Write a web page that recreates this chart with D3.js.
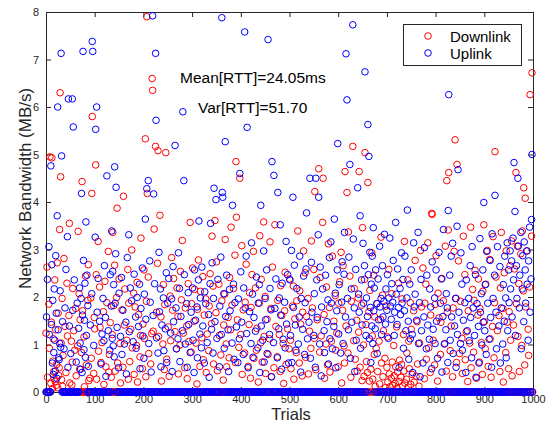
<!DOCTYPE html>
<html lang="en">
<head>
    <meta charset="UTF-8">
    <title>Network Bandwidth per Trial</title>
    <script src="https://cdn.jsdelivr.net/npm/d3@7/dist/d3.min.js"></script>
    <style>
        body { margin: 0; background: #fff; }
        svg { font-family: "Liberation Sans", Arial, sans-serif; }
        .axis path, .axis line { stroke: #262626; }
        .axis text { fill: #262626; font-size: 11px; }
    </style>
</head>
<body>
<svg width="546" height="425"></svg>

<script>

    // Downlink bandwidth (MB/s), one value per trial 0..999
    var downlink = [
        1.24, 0, 2.63, 0.31, 0, 0, 1.85, 0.92, 4.95, 0,
        0.18, 1.47, 4.93, 0.07, 0.65, 1.12, 0.43, 0.28, 2.36, 0.22,
        1.31, 0.14, 0.58, 2.72, 0.09, 1.66, 0.35, 0.51, 3.42, 6.3,
        4.53, 1.03, 0.26, 1.97, 0.12, 0.77, 0, 2.81, 0, 1.38,
        0, 0.41, 0, 2.29, 1.18, 0, 0, 1.61, 3.55, 0.19,
        0, 0, 1.07, 0.15, 0.63, 2.18, 0, 1.29, 0, 0.88,
        0, 1.76, 0.34, 0, 0, 0.97, 3.38, 0, 2.07, 0.48,
        1.52, 0, 0, 0.83, 4.43, 1.71, 0, 0, 1.16, 0.11,
        0, 2.44, 0, 0.57, 0, 0, 1.93, 2.68, 0.24, 0,
        0.29, 0, 1.98, 0.71, 4.18, 5.8, 0, 0, 0.39, 1.57,
        1.33, 0, 4.78, 2.47, 0.27, 0, 0, 3.17, 0.86, 0,
        2.21, 1.36, 0, 0.62, 0, 1.04, 0, 0, 1.69, 0.16,
        0, 2.33, 0, 0.53, 0, 1.88, 0, 0, 2.96, 0.42,
        0.79, 0, 1.46, 0, 0.31, 0, 1.21, 3.36, 0, 1.82,
        0, 2.67, 0.44, 0, 0, 1.99, 3.87, 0.61, 0, 0,
        2.38, 0, 1.02, 0.19, 0, 0, 1.73, 0, 0.52, 4.12,
        0, 1.41, 2.17, 0, 0, 0, 1.09, 0, 2.58, 0.27,
        1.87, 0, 0.64, 0, 1.32, 0, 2.99, 0.93, 0, 0,
        2.08, 0.37, 0, 1.79, 0, 0, 0.98, 2.31, 0.21, 0,
        1.63, 0, 0, 0.74, 1.19, 3.24, 0, 0, 0.49, 1.43,
        0, 2.57, 1.13, 0, 5.33, 0.32, 1.91, 7.9, 4.18, 0,
        2.42, 0.81, 0, 0, 0, 0.59, 0, 1.23, 6.6, 6.35,
        1.28, 0, 3.43, 0, 0, 5.17, 0, 1.68, 0, 2.71,
        5.08, 1.17, 0, 0, 3.72, 0, 1.58, 0.23, 0, 0,
        1.01, 2.26, 0, 0.47, 1.84, 0, 5.04, 0, 0.69, 0,
        0, 1.37, 0, 0.33, 0, 2.02, 1.08, 0, 2.83, 0,
        1.72, 0, 2.39, 0, 0, 1.27, 0, 0, 0.91, 2.19,
        0, 1.59, 0.38, 0, 0, 0.99, 2.54, 0, 1.94, 0,
        3.19, 0, 1.24, 0, 0, 0.51, 1.77, 0, 0, 1.39,
        0.28, 0, 2.28, 1.06, 0, 0, 3.57, 0, 0.84, 1.86,
        0, 2.61, 0, 0, 1.49, 2.16, 0, 0, 1.03, 0,
        0.17, 1.74, 0, 2.78, 0, 0, 0.54, 2.12, 0, 0,
        1.14, 0, 2.43, 0.68, 0, 1.62, 0, 0, 1.96, 0.41,
        0, 1.22, 0, 0, 0.87, 1.81, 0, 2.49, 0, 0,
        1.44, 3.28, 0, 2.23, 0.59, 0, 0, 3.61, 0, 1.67,
        2.74, 0, 0.45, 0, 0, 2.27, 1.19, 0, 0, 0.78,
        0, 1.92, 0, 0, 0.25, 1.41, 0, 2.06, 3.21, 0,
        1.01, 0.53, 0, 0, 1.57, 0, 0.72, 2.41, 0, 1.31,
        3.47, 0, 1.83, 0, 0, 2.18, 0, 0, 2.88, 0.62,
        4.85, 3.68, 0, 1.52, 0, 0, 0.94, 0, 4.5, 0,
        1.21, 0, 3.08, 0.37, 0, 1.73, 0, 0, 0.82, 1.89,
        0, 2.69, 0, 0, 0, 0.54, 0, 1.42, 2.09, 0,
        0.29, 1.78, 0, 2.47, 0, 0, 2.96, 0.71, 0, 0,
        2.19, 0, 0.88, 1.34, 0, 0, 0.21, 0, 1.87, 3.29,
        0, 1.04, 2.37, 0, 0.63, 0, 0, 3.58, 1.17, 0,
        2.01, 0.39, 0, 0, 1.53, 0, 0.79, 0, 0, 1.12,
        3.16, 0, 1.76, 0.32, 0, 2.63, 0, 0, 0.51, 0,
        3.52, 0, 1.38, 0, 0, 0.74, 1.93, 0, 0, 1.21,
        0, 0.43, 2.24, 0, 1.61, 0, 0, 1.02, 0.18, 0,
        1.71, 2.52, 0, 0.58, 0, 0, 1.33, 0, 0, 0.91,
        2.38, 0, 1.09, 0.49, 0, 0, 1.81, 0, 2.23, 0.27,
        0, 1.54, 0, 0, 0.83, 1.92, 0, 3.39, 0, 0,
        0.61, 2.13, 0, 1.43, 0, 0, 0.34, 1.68, 0, 2.97,
        0, 0, 2.51, 0.73, 0, 1.59, 0, 0, 1.97, 0.38,
        0, 1.28, 0, 0, 0.92, 3.18, 0, 1.77, 0, 0,
        2.58, 1.13, 4.22, 0, 0.47, 0, 0, 1.52, 0, 0,
        4.7, 0, 0.84, 2.41, 0, 1.18, 0, 0, 3.57, 4.5,
        0, 1.63, 0.29, 0, 0, 1.01, 2.21, 0, 0.57, 0,
        3.12, 0, 1.78, 0.42, 0, 0, 1.07, 0, 2.86, 0,
        0, 1.49, 0, 0, 2.03, 0.88, 0, 1.24, 0, 0,
        0.53, 1.87, 0, 2.32, 0, 0, 2.94, 0.19, 0, 1.72,
        2.66, 0, 0.97, 0.61, 4.64, 0, 1.39, 0, 4.2, 0,
        0.82, 3.37, 0, 0, 2.44, 0, 0.31, 1.91, 0, 0,
        5.17, 0, 1.08, 2.18, 0, 0.69, 0, 0, 1.51, 0.44,
        0, 1.98, 1.26, 4.64, 0, 0.52, 0, 0, 1.83, 0.24,
        3.46, 0, 0.99, 0.33, 2.37, 5.04, 0, 1.42, 0.64, 0,
        0.41, 4.41, 0, 1.69, 0.23, 2.14, 0, 0.48, 0, 2.93,
        1.18, 0.27, 0, 2.46, 0.79, 1.58, 0.12, 0, 0.92, 0,
        1.86, 0.43, 0, 0, 1.07, 0.17, 0, 1.53, 3.26, 0.61,
        0, 2.04, 0.32, 1.29, 0, 0, 0.71, 0.09, 1.81, 0,
        0.52, 1.16, 0.21, 0, 2.58, 0.38, 0.11, 0, 0, 0.29,
        2.07, 0.63, 0.14, 0, 0.98, 0.34, 0, 0.18, 0.53, 0,
        1.37, 0.08, 0.42, 0, 2.29, 0.22, 0.67, 0, 0, 0.31,
        0.58, 1.96, 0.13, 0, 1.21, 0.44, 3.17, 0.19, 0, 0,
        0.27, 0.82, 0, 2.36, 0.1, 1.07, 0.49, 0, 1.88, 0.16,
        1.32, 0, 0.37, 0, 0, 1.71, 0.21, 0, 2.77, 0,
        0.33, 0, 1.48, 0.59, 0, 0, 0.12, 1.03, 0, 2.98,
        0, 1.79, 0, 0, 2.61, 0, 0, 0.28, 1.87, 0,
        2.27, 0.69, 0, 0, 3.14, 0, 0.93, 0, 0, 0.41,
        1.62, 0, 3.76, 3.74, 0, 1.09, 0, 0, 0.57, 1.84,
        0, 2.87, 0, 0, 0.23, 2.08, 0, 1.56, 0, 0,
        0.79, 1.47, 0, 2.39, 0, 0, 1.92, 0, 0, 1.02,
        3.07, 0, 0.44, 4.45, 1.68, 0, 3.41, 4.62, 0, 0,
        0.87, 0, 1.39, 0, 0, 0.32, 1.77, 0, 2.96, 0,
        5.31, 0, 1.97, 0.62, 4.79, 0, 0, 2.76, 0, 0.81,
        0, 1.91, 0, 0, 1.13, 0.39, 0, 3.28, 0, 0,
        2.47, 0.68, 0, 1.27, 0, 0, 0.22, 1.71, 0, 0,
        1.03, 0, 3.47, 0.51, 0, 0, 2.16, 0, 0.84, 1.93,
        0, 2.56, 0, 0, 0.29, 0, 0, 1.62, 2.38, 0,
        0.63, 1.76, 0, 0, 1.04, 0, 0.37, 2.12, 0, 3.52,
        1.48, 0, 0.91, 2.27, 0, 0, 2.98, 0, 0.54, 0,
        0, 2.79, 1.12, 0, 0.31, 0, 0, 1.38, 3.27, 0,
        0.72, 1.88, 5.06, 0, 2.42, 0, 0, 1.29, 0, 0,
        1.61, 0, 0.43, 2.19, 0, 3.36, 0, 0, 1.76, 0.21,
        0, 2.51, 0, 0, 0.83, 2.97, 0, 1.47, 0, 0,
        0.49, 1.69, 0, 2.66, 1.09, 0, 3.18, 0.34, 0, 0,
        1.41, 0, 2.59, 0, 0, 4.62, 1.86, 0, 3.07, 1.17,
        0, 2.28, 0.43, 0, 0, 2.91, 0, 0.98, 3.39, 0,
        2.13, 4.3, 0, 0.57, 4.08, 1.79, 0, 0, 2.97, 0,
        1.32, 0.77, 0, 2.21, 6.26, 0, 0, 3.28, 6.72, 0
    ];

    // Uplink bandwidth (MB/s), one value per trial 0..999
    var uplink = [
        0, 1.58, 0, 2.37, 0, 0, 3.06, 1.21, 0, 0,
        4.76, 1.42, 2.68, 0.61, 1.93, 0.37, 0.83, 2.17, 1.09, 0.44,
        2.87, 1.66, 0.29, 3.71, 6.0, 1.31, 0.72, 0.68, 1.02, 2.13,
        0.94, 7.13, 4.97, 0, 1.48, 0, 0, 0.91, 0, 1.77,
        0, 2.58, 0, 0, 3.27, 0.52, 6.17, 0, 1.39, 0,
        0, 0.81, 0, 0, 6.17, 1.72, 5.58, 0, 2.36, 0,
        0, 0, 0.63, 0, 1.87, 0, 0, 1.34, 0, 2.19,
        1.03, 0.48, 1.97, 4.18, 0.41, 1.62, 7.17, 2.77, 0.89, 1.51,
        2.29, 0.73, 3.58, 1.19, 2.46, 0, 1.82, 0.54, 0, 0,
        0, 1.41, 0, 0, 2.07, 7.38, 7.17, 0, 0.98, 0,
        0, 3.26, 5.53, 0, 6.0, 1.68, 0, 2.39, 0, 0,
        1.49, 0, 0, 0.59, 0, 1.22, 0, 1.97, 0, 1.08,
        2.66, 0, 1.57, 0.33, 0, 4.55, 0, 0, 1.29, 0,
        0, 0.88, 2.47, 0, 1.81, 3.39, 1.13, 2.54, 0.97, 2.26,
        0.74, 4.74, 1.87, 2.91, 4.31, 0, 1.36, 0, 0, 0.51,
        2.08, 0, 0, 1.17, 0, 2.41, 0.79, 0, 1.72, 0,
        0, 1.01, 0, 0, 1.47, 0.38, 0, 2.83, 0, 0,
        3.31, 1.27, 0, 2.19, 0, 0, 1.92, 0, 0, 1.06,
        0, 2.48, 0, 0, 1.58, 0.92, 0, 1.99, 0, 0,
        1.38, 0, 2.27, 0.49, 0, 1.76, 0, 0, 2.61, 1.18,
        0, 0.71, 2.06, 0, 3.64, 1.53, 0, 4.28, 0, 0,
        4.45, 1.02, 0, 2.76, 1.89, 0, 0.42, 0, 0, 7.92,
        1.61, 4.17, 0, 2.28, 0, 7.13, 5.72, 1.14, 0, 0,
        0.82, 0, 2.94, 1.69, 0, 2.17, 0.53, 0, 1.41, 0,
        0, 1.98, 0.87, 0, 0, 1.33, 0, 2.51, 0.62, 0,
        1.87, 0, 2.39, 0, 0, 0, 1.24, 0, 1.96, 0.43,
        0, 2.64, 1.48, 0, 0, 5.19, 0, 1.77, 0.91, 0,
        0, 1.12, 2.93, 0, 2.18, 0.64, 0, 1.59, 0, 0,
        1.29, 5.9, 0, 4.45, 2.47, 0, 1.01, 0, 0, 1.86,
        0.52, 0, 2.09, 1.42, 0, 0, 0.83, 0, 1.68, 0,
        0, 2.19, 1.09, 0, 0.41, 2.57, 0, 1.51, 0, 0,
        1.79, 0.72, 0, 2.36, 3.6, 0, 1.22, 1.98, 0, 0.93,
        2.63, 0, 1.39, 0, 0, 0.61, 2.11, 0, 1.86, 0,
        0, 1.04, 0, 0, 1.63, 0.31, 0, 2.28, 3.55, 0,
        1.32, 2.72, 0, 0.82, 1.97, 4.29, 0, 1.48, 0, 4.05,
        0, 1.13, 0, 2.37, 0, 0, 0.53, 1.81, 0, 2.84,
        1.21, 7.88, 4.2, 4.1, 0, 2.07, 0.92, 0, 5.27, 1.59,
        0, 2.46, 0, 0, 1.31, 0.43, 0, 2.16, 1.71, 0,
        0, 0, 1.03, 3.93, 0, 2.27, 0.69, 0, 1.88, 0,
        0, 1.37, 0, 0, 0.62, 1.96, 0, 1.12, 4.6, 0,
        2.53, 0, 1.47, 0, 0, 0.79, 2.19, 0, 7.58, 1.77,
        0, 2.86, 1.23, 5.57, 0, 0.51, 0, 0, 1.69, 0,
        0, 1.02, 3.14, 0, 2.06, 0.73, 0, 1.57, 0, 0,
        1.28, 0, 2.42, 0, 0, 0.93, 1.87, 0, 2.26, 0.41,
        0, 3.93, 1.39, 0, 0, 1.09, 0, 2.97, 0.63, 0,
        1.97, 1.52, 0, 2.57, 0.81, 0, 7.42, 0, 0, 1.21,
        2.18, 0, 1.73, 0.32, 4.85, 0, 0, 1.04, 4.56, 0,
        1.76, 0, 2.38, 0, 0, 0.72, 4.2, 0, 1.33, 1.98,
        0, 3.52, 1.62, 0, 0.48, 2.29, 0, 1.11, 0, 0,
        1.89, 0.93, 0, 3.17, 1.43, 0, 2.47, 0, 0.61, 0,
        0, 2.36, 1.19, 0, 2.98, 0.62, 0, 4.1, 1.78, 0,
        2.67, 0, 1.41, 0.88, 0, 2.18, 0, 0, 1.01, 0,
        1.58, 2.86, 0, 0.42, 1.97, 0, 0, 1.32, 0, 2.44,
        0, 0.79, 1.88, 0, 2.59, 3.77, 0, 1.12, 0, 0,
        1.47, 0, 4.5, 0.71, 0, 2.73, 1.68, 0, 0, 0,
        1.19, 2.07, 0, 0.52, 4.5, 0, 2.36, 1.57, 0, 3.31,
        4.1, 0, 1.01, 2.63, 0, 0.34, 1.79, 0, 2.17, 0,
        0, 1.29, 0.83, 0, 2.46, 0, 0, 1.48, 0, 1.94,
        0.59, 0, 2.83, 1.12, 0, 3.16, 1.87, 0, 0.91, 0,
        0, 1.38, 3.64, 0, 2.08, 0.51, 0, 1.71, 2.57, 5.23,
        0, 1.22, 2.26, 0, 0, 0.82, 0, 1.89, 2.74, 0,
        1.02, 0, 2.48, 3.36, 0, 1.58, 7.12, 0, 6.15, 1.97,
        0, 1.31, 2.84, 0, 4.79, 0.71, 0, 2.17, 1.47, 0,
        7.73, 3.22, 0, 1.77, 0.43, 0, 2.58, 1.09, 0, 0,
        4.3, 0, 2.06, 1.68, 0, 3.71, 0.92, 0, 2.36, 1.41,
        0, 3.13, 1.87, 0, 2.66, 6.74, 0, 1.19, 1.98, 0,
        1.59, 5.63, 2.47, 4.96, 1.12, 2.94, 1.78, 0.62, 2.27, 1.39,
        2.86, 1.02, 3.46, 1.71, 2.19, 0, 1.33, 2.57, 0, 1.86,
        0.81, 0, 2.38, 1.52, 0, 3.07, 1.79, 0, 1.97, 1.21,
        0, 2.66, 1.58, 0, 1.91, 3.32, 0, 1.43, 2.17, 0,
        1.72, 2.47, 0, 1.13, 1.98, 0, 3.24, 1.81, 0, 1.53,
        2.28, 0, 1.89, 2.77, 0, 1.19, 1.68, 0, 3.57, 2.06,
        0, 1.42, 2.59, 0, 1.78, 0.51, 0, 2.18, 1.63, 0,
        2.93, 1.87, 0, 2.37, 0.92, 0, 1.71, 2.86, 0, 1.29,
        0, 1.98, 3.83, 0, 1.49, 0.69, 0, 2.27, 1.12, 0,
        2.57, 0, 1.21, 0.41, 0, 3.14, 1.79, 0, 2.06, 0,
        0, 1.51, 0, 0, 3.36, 1.02, 0, 1.88, 0.32, 0,
        2.37, 1.29, 0, 0, 0.61, 0, 1.58, 3.04, 0, 0,
        0, 0.91, 2.46, 0, 1.41, 0, 0, 1.11, 2.17, 0,
        1.79, 0, 0.49, 2.74, 0, 1.32, 0, 0, 1.98, 1.02,
        0, 2.57, 1.49, 0, 0.71, 0, 0, 2.94, 0, 0,
        1.87, 0, 2.38, 0.42, 0, 1.59, 3.42, 0, 1.01, 0,
        0, 1.31, 2.07, 0, 1.77, 0.62, 3.82, 6.26, 0, 2.46,
        1.09, 0, 2.86, 1.58, 0, 3.13, 0.81, 0, 0, 1.39,
        0, 1.97, 0.52, 0, 3.49, 1.21, 4.68, 0, 1.68, 0,
        0, 1.02, 2.93, 0, 2.27, 0.88, 0, 1.51, 0, 0,
        1.88, 0, 0.41, 2.36, 0, 1.29, 0, 0, 1.97, 1.08,
        0, 2.66, 1.57, 0, 0.72, 3.06, 0, 1.77, 0, 0,
        1.19, 0, 2.47, 0.31, 0, 1.86, 0, 0, 1.38, 0.61,
        0, 3.23, 1.68, 0, 2.07, 0.99, 0, 2.57, 1.47, 3.99,
        0, 1.29, 2.26, 0, 0.79, 2.96, 0, 1.87, 0, 0,
        1.11, 0, 2.77, 1.57, 0, 0.52, 3.33, 0, 1.97, 0,
        0, 2.46, 4.14, 0, 1.68, 0.91, 0, 3.06, 0, 0,
        1.39, 0, 2.64, 0.61, 0, 1.77, 0, 0, 1.01, 2.26,
        0, 1.49, 2.86, 0, 1.98, 0.72, 0, 3.14, 1.29, 0,
        2.57, 1.88, 0, 2.97, 2.17, 0, 2.76, 1.58, 0, 3.24,
        2.36, 4.83, 0, 3.8, 1.19, 0, 2.66, 1.97, 0, 4.5,
        3.07, 0, 1.77, 2.46, 0, 3.36, 0.91, 0, 2.17, 2.87,
        0, 1.48, 3.16, 0, 2.57, 1.87, 0, 2.97, 2.27, 0,
        1.09, 2.76, 0, 3.47, 1.68, 0, 2.38, 3.63, 5.0, 0
    ];

    var xTicks = [0, 100, 200, 300, 400, 500, 600, 700, 800, 900, 1000];
    var yTicks = [0, 1, 2, 3, 4, 5, 6, 7, 8];
    var seriesNames = ["Downlink", "Uplink"];
    var seriesColors = ["#ff0000", "#0000ff"];
    var notes = ["Mean[RTT]=24.05ms", "Var[RTT]=51.70"];

    var svg = d3.select("svg");

    // plot box in pixels
    var plotLeft = 46, plotRight = 533, plotTop = 12, plotBottom = 392;

    var x = d3.scaleLinear().domain([0, 1000]).range([plotLeft, plotRight]);
    var y = d3.scaleLinear().domain([0, 8]).range([plotBottom, plotTop]);

    // axes with inward ticks (box style)
    svg.append("g")
        .attr("class", "axis")
        .attr("transform", "translate(0," + plotBottom + ")")
        .call(d3.axisBottom(x).tickValues(xTicks).tickFormat(d3.format("d"))
            .tickSizeInner(-5).tickSizeOuter(0).tickPadding(3));

    svg.append("g")
        .attr("class", "axis")
        .attr("transform", "translate(0," + plotTop + ")")
        .call(d3.axisTop(x).tickValues(xTicks).tickSizeInner(-5).tickSizeOuter(0).tickFormat(""));

    svg.append("g")
        .attr("class", "axis")
        .attr("transform", "translate(" + plotLeft + ",0)")
        .call(d3.axisLeft(y).tickValues(yTicks).tickSizeInner(-5).tickSizeOuter(0).tickPadding(7));

    svg.append("g")
        .attr("class", "axis")
        .attr("transform", "translate(" + plotRight + ",0)")
        .call(d3.axisRight(y).tickValues(yTicks).tickSizeInner(-5).tickSizeOuter(0).tickFormat(""));

    // points: downlink first, uplink drawn on top
    [downlink, uplink].forEach(function (values, k) {
        svg.append("g")
            .selectAll("circle")
            .data(values)
            .enter().append("circle")
            .attr("cx", function (d, i) { return x(i); })
            .attr("cy", function (d) { return y(d); })
            .attr("r", 3.3)
            .attr("fill", "none")
            .attr("stroke", seriesColors[k])
            .attr("stroke-width", 1);
    });

    // annotations
    svg.append("text")
        .attr("x", 180).attr("y", 83)
        .style("font-size", "15.5px")
        .text(notes[0]);
    svg.append("text")
        .attr("x", 198).attr("y", 113)
        .style("font-size", "15.5px")
        .text(notes[1]);

    // legend
    var legend = svg.append("g");
    legend.append("rect")
        .attr("x", 403.5).attr("y", 24.5)
        .attr("width", 118).attr("height", 41)
        .attr("fill", "#fff")
        .attr("stroke", "#262626");
    seriesNames.forEach(function (name, k) {
        legend.append("circle")
            .attr("cx", 428).attr("cy", 36 + k * 17)
            .attr("r", 3.3)
            .attr("fill", "none")
            .attr("stroke", seriesColors[k]);
        legend.append("text")
            .attr("x", 450).attr("y", 41.5 + k * 17)
            .style("font-size", "15px")
            .text(name);
    });

    // axis titles
    svg.append("text")
        .attr("x", 291).attr("y", 420)
        .attr("text-anchor", "middle")
        .style("font-size", "16.5px")
        .attr("fill", "#262626")
        .text("Trials");

    svg.append("text")
        .attr("transform", "translate(31,188.5) rotate(-90)")
        .attr("text-anchor", "middle")
        .style("font-size", "17px")
        .attr("fill", "#262626")
        .text("Network Bandwidth (MB/s)");

</script>
</body>
</html>
